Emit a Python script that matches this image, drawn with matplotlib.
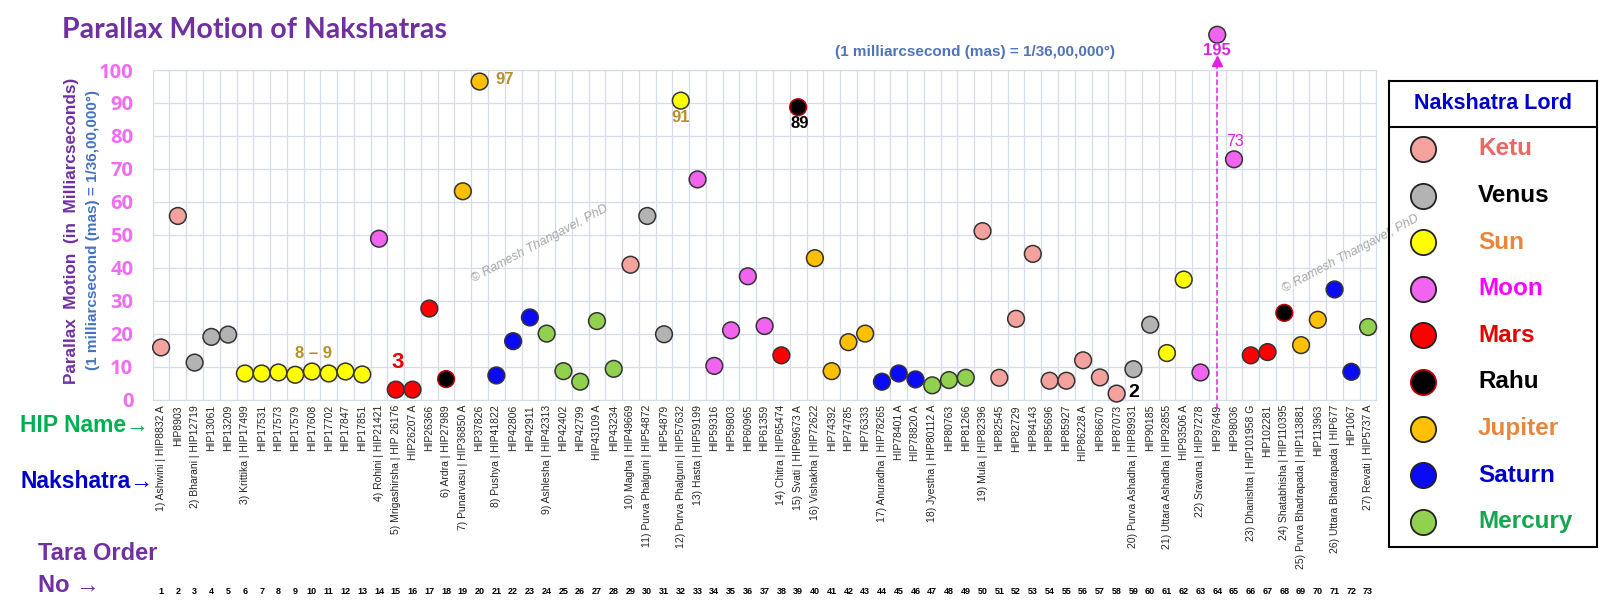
import numpy as np
import matplotlib
matplotlib.use("Agg")
import matplotlib.pyplot as plt
import matplotlib.transforms as mtransforms

plt.rcParams['font.family'] = ['Liberation Sans', 'DejaVu Sans']

# Nakshatra groups: name, lord, number of stars
nak_names = ["Ashwini", "Bharani", "Krittika", "Rohini", "Mrigashirsha", "Ardra", "Punarvasu",
             "Pushya", "Ashlesha", "Magha", "Purva Phalguni", "Purva Phalguni", "Hasta", "Chitra",
             "Svati", "Vishakha", "Anuradha", "Jyestha", "Mula", "Purva Ashadha", "Uttara Ashadha",
             "Sravana", "Dhanishta", "Shatabhisha", "Purva Bhadrapada", "Uttara Bhadrapada", "Revati"]
nak_lords = ["Ketu", "Venus", "Sun", "Moon", "Mars", "Rahu", "Jupiter", "Saturn", "Mercury"] * 3
nak_counts = [2, 3, 8, 1, 3, 1, 2, 3, 5, 1, 2, 1, 5, 1, 1, 4, 3, 3, 9, 2, 2, 3, 2, 1, 2, 2, 1]

hip_names = ["HIP8832 A", "HIP8903", "HIP12719", "HIP13061", "HIP13209", "HIP17499", "HIP17531",
             "HIP17573", "HIP17579", "HIP17608", "HIP17702", "HIP17847", "HIP17851", "HIP21421",
             "HIP 26176", "HIP26207 A", "HIP26366", "HIP27989", "HIP36850 A", "HIP37826",
             "HIP41822", "HIP42806", "HIP42911", "HIP42313", "HIP42402", "HIP42799", "HIP43109 A",
             "HIP43234", "HIP49669", "HIP54872", "HIP54879", "HIP57632", "HIP59199", "HIP59316",
             "HIP59803", "HIP60965", "HIP61359", "HIP65474", "HIP69673 A", "HIP72622", "HIP74392",
             "HIP74785", "HIP76333", "HIP78265", "HIP78401 A", "HIP78820 A", "HIP80112 A",
             "HIP80763", "HIP81266", "HIP82396", "HIP82545", "HIP82729", "HIP84143", "HIP85696",
             "HIP85927", "HIP86228 A", "HIP86670", "HIP87073", "HIP89931", "HIP90185", "HIP92855",
             "HIP93506 A", "HIP97278", "HIP97649", "HIP98036", "HIP101958 G", "HIP102281",
             "HIP110395", "HIP113881", "HIP113963", "HIP677", "HIP1067", "HIP5737 A"]

# parallax in mas
parallax = [15.8, 55.7, 11.2, 19.0, 19.7, 7.9, 7.9, 8.2, 7.5, 8.5, 7.9, 8.5, 7.6,
            48.8, 3.0, 3.0, 27.6, 6.2, 63.2, 96.5, 7.3, 17.7, 24.9, 20.0,
            8.6, 5.4, 23.8, 9.3, 40.9, 55.7, 19.8, 90.7, 66.8, 10.2, 21.0, 37.4, 22.3,
            13.4, 88.7, 42.9, 8.6, 17.4, 20.0, 5.4, 7.9, 6.1, 4.3, 5.9, 6.6,
            51.1, 6.6, 24.5, 44.2, 5.7, 5.7, 11.9, 6.7, 1.8, 9.2, 22.7, 14.1, 36.4, 8.2,
            195, 72.9, 13.4, 14.4, 26.3, 16.5, 24.2, 33.4, 8.4, 22.0]

legend_lords = ["Ketu", "Venus", "Sun", "Moon", "Mars", "Rahu", "Jupiter", "Saturn", "Mercury"]

fill_col = {"Ketu": "#f4a29e", "Venus": "#b3b3b3", "Sun": "#ffff00", "Moon": "#f064f0",
            "Mars": "#ff0000", "Rahu": "#000000", "Jupiter": "#ffc000", "Saturn": "#0a0af5",
            "Mercury": "#92d050"}
text_col = {"Ketu": "#ee6565", "Venus": "#000000", "Sun": "#e8863c", "Moon": "#ff00ff",
            "Mars": "#e60000", "Rahu": "#000000", "Jupiter": "#e8863c", "Saturn": "#0000cc",
            "Mercury": "#12a650"}

# expand group info to each star
lords, labels = [], []
k = 0
for gi, (nm, ld, cnt) in enumerate(zip(nak_names, nak_lords, nak_counts)):
    for j in range(cnt):
        lords.append(ld)
        if j == 0:
            labels.append(f"{gi + 1}) {nm} | {hip_names[k]}")
        else:
            labels.append(hip_names[k])
        k += 1

x = np.arange(1, len(parallax) + 1)
OFF_Y = 110.7  # where off-scale points are drawn
y_plot = [v if v <= 100 else OFF_Y for v in parallax]

W, H = 1600, 610
fig = plt.figure(figsize=(16, 6.1), dpi=100)
ax = fig.add_axes([152.7 / W, 1 - 399.5 / H, (1376.5 - 152.7) / W, 329.5 / H])
gridc = '#d6dce9'

ax.set_xlim(0.5, len(x) + 0.5)
ax.set_ylim(0, 100)
ax.set_xticks(x)
ax.set_xticklabels(labels, rotation=90, fontsize=7.5, color='#262626', va='top')
ax.set_xticks(np.arange(0.5, len(x) + 1, 1), minor=True)
ax.set_yticks(range(0, 101, 10))
for t in ax.get_yticklabels():
    t.set_color('#f06cf0')
    t.set_fontsize(14.5)
    t.set_fontweight('bold')
    t.set_family(['Open Sans', 'DejaVu Sans'])
ax.tick_params(axis='both', which='both', length=0)
ax.tick_params(axis='x', pad=4)
ax.tick_params(axis='y', pad=14)
ax.grid(True, which='minor', axis='x', color=gridc, lw=0.9)
ax.grid(True, which='major', axis='y', color=gridc, lw=0.9)
ax.set_axisbelow(True)
for s in ax.spines.values():
    s.set_color(gridc)

edges = ['#c00000' if l == "Rahu" else '#333333' for l in lords]
ax.scatter(x, y_plot, s=145, c=[fill_col[l] for l in lords], edgecolors=edges,
           linewidths=1.1, zorder=3, clip_on=False)

# off-scale marker for 195 mas
i195 = parallax.index(195)
ax.plot([x[i195], x[i195]], [-3, 102.6], ls='--', color='#e020e0', lw=1.1, clip_on=False, zorder=2)
ax.plot(x[i195], 102.6, marker='^', color='#e020e0', ms=7, clip_on=False, zorder=2)

gold = '#b8902a'
ax.text(21.5, 97, "97", color=gold, fontsize=12, fontweight='bold', va='center', ha='center', clip_on=False)
ax.text(10.1, 13.9, "8 – 9", color=gold, fontsize=12, fontweight='bold', va='center', ha='center')
ax.text(15.1, 11.1, "3", color='#e60000', fontsize=16, fontweight='bold', va='center', ha='center')
ax.text(32, 85.5, "91", color=gold, fontsize=12, fontweight='bold', va='center', ha='center')
ax.text(39.1, 83.8, "89", color='black', fontsize=12, fontweight='bold', va='center', ha='center')
ax.text(59, 2.0, "2", color='black', fontsize=14, fontweight='bold', va='center', ha='center')
ax.text(64, 106, "195", color='#e020e0', fontsize=12, fontweight='bold', va='center', ha='center', clip_on=False)
ax.text(65.05, 78.3, "73", color='#e020e0', fontsize=11.5, va='center', ha='center')

# watermarks
ax.text(540 / W, 1 - 244 / H, "© Ramesh Thangavel, PhD", transform=fig.transFigure, rotation=28,
        color='#a6a6a6', fontsize=9, style='italic', ha='center', va='center', rotation_mode='anchor')
ax.text(1351 / W, 1 - 254 / H, "© Ramesh Thangavel, PhD", transform=fig.transFigure, rotation=28,
        color='#a6a6a6', fontsize=9, style='italic', ha='center', va='center', rotation_mode='anchor',
        zorder=10)

# tara order numbers
trans = mtransforms.blended_transform_factory(ax.transData, fig.transFigure)
for xi in x:
    ax.text(xi, 1 - 592 / H, str(xi), transform=trans, fontsize=6.5, fontweight='bold',
            ha='center', va='center', clip_on=False)

# titles and side labels
fig.text(62 / W, 1 - 38 / H, "Parallax Motion of Nakshatras", color='#7030a0', fontsize=20.5,
         fontweight='bold', ha='left', va='baseline', family=['Lato', 'DejaVu Sans'])
fig.text(975 / W, 1 - 52 / H, "(1 milliarcsecond (mas) = 1/36,00,000°)", color='#4f74b8',
         fontsize=11, fontweight='bold', ha='center', va='center')
fig.text(71.5 / W, 1 - 231 / H, "Parallax  Motion  (in  Milliarcseconds)", color='#7030a0',
         fontsize=12.3, fontweight='bold', rotation=90, ha='center', va='center')
fig.text(93 / W, 1 - 230 / H, "(1 milliarcsecond (mas) = 1/36,00,000°)", color='#4472c4',
         fontsize=11, fontweight='bold', rotation=90, ha='center', va='center')

fig.text(20 / W, 1 - 425 / H, "HIP Name→", color='#00b050', fontsize=16.5, fontweight='bold',
         ha='left', va='center')
fig.text(20 / W, 1 - 482 / H, "Nakshatra→", color='#0000cc', fontsize=16.5, fontweight='bold',
         ha='left', va='center')
fig.text(38 / W, 1 - 553 / H, "Tara Order", color='#7030a0', fontsize=17, fontweight='bold',
         ha='left', va='center')
fig.text(38 / W, 1 - 585 / H, "No →", color='#7030a0', fontsize=17, fontweight='bold',
         ha='left', va='center')

# legend box
lx0, lx1, ly0, ly1 = 1389, 1597, 81, 547
lax = fig.add_axes([lx0 / W, 1 - ly1 / H, (lx1 - lx0) / W, (ly1 - ly0) / H])
lax.set_xlim(lx0, lx1)
lax.set_ylim(ly1, ly0)
lax.set_xticks([])
lax.set_yticks([])
for s in lax.spines.values():
    s.set_color('black')
    s.set_linewidth(1.5)
lax.patch.set_alpha(0)
lax.axhline(127, color='black', lw=1.5)
lax.text((lx0 + lx1) / 2, 104, "Nakshatra Lord", color='#0000cc', fontsize=15.5, fontweight='bold',
         ha='center', va='center')
for i, ld in enumerate(legend_lords):
    yy = 149 + i * 46.6
    lax.scatter(1423, yy, s=330, c=fill_col[ld],
                edgecolors='#c00000' if ld == "Rahu" else '#222222', linewidths=1.3, zorder=3)
    lax.text(1478, yy, ld, color=text_col[ld], fontsize=17.5, fontweight='bold',
             ha='left', va='center')

fig.savefig("out.png", dpi=100)
